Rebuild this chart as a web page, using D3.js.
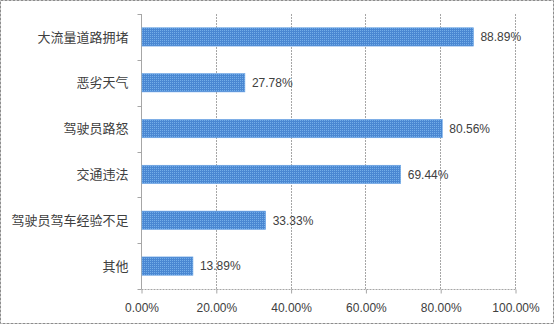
<!DOCTYPE html>
<html>
<head>
<meta charset="utf-8">
<script src="https://cdn.jsdelivr.net/npm/d3@7"></script>
<style>
  html, body { margin: 0; padding: 0; background: #fff; }
  svg { display: block; }
</style>
</head>
<body>
<svg id="chart" width="554" height="324"></svg>
<script>
// Causes listed top to bottom, with the share of respondents for each
const categories = ["大流量道路拥堵", "恶劣天气", "驾驶员路怒", "交通违法", "驾驶员驾车经验不足", "其他"];
const values = [88.89, 27.78, 80.56, 69.44, 33.33, 13.89];
const tickValues = [0, 20, 40, 60, 80, 100];

const W = 554, H = 324;
const plot = { left: 141, right: 515, top: 14, bottom: 289 };

const svg = d3.select("#chart");

// dotted fill used for the bars
const defs = svg.append("defs");
const pat = defs.append("pattern")
  .attr("id", "dots")
  .attr("width", 2).attr("height", 2)
  .attr("patternUnits", "userSpaceOnUse");
pat.append("rect").attr("width", 2).attr("height", 2).attr("fill", "#4a87d2");
pat.append("rect").attr("x", 0).attr("y", 0).attr("width", 1).attr("height", 1).attr("fill", "#74aee8");

// dashed frame around the chart
svg.append("rect")
  .attr("x", 0.5).attr("y", 0.5)
  .attr("width", W - 1).attr("height", H - 1)
  .attr("fill", "#fff")
  .attr("stroke", "#8c8c8c")
  .attr("stroke-dasharray", "3,1");

const x = d3.scaleLinear().domain([0, 100]).range([plot.left, plot.right]);
const y = d3.scaleBand()
  .domain(categories)
  .range([plot.top, plot.bottom])
  .paddingInner(0.6)
  .paddingOuter(0.3);

// vertical gridlines
svg.append("g")
  .selectAll("line")
  .data(tickValues.slice(1))
  .join("line")
  .attr("x1", d => Math.round(x(d)) + 0.5)
  .attr("x2", d => Math.round(x(d)) + 0.5)
  .attr("y1", plot.top)
  .attr("y2", plot.bottom)
  .attr("stroke", "#a6a6a6")
  .attr("stroke-dasharray", "2,1");

// bottom value axis
const xAxis = svg.append("g")
  .attr("transform", `translate(0.5,${plot.bottom + 0.5})`)
  .call(d3.axisBottom(x)
    .tickValues(tickValues)
    .tickSize(4)
    .tickPadding(10)
    .tickFormat(d => d.toFixed(2) + "%"));
xAxis.select(".domain")
  .attr("stroke", "#a6a6a6")
  .attr("stroke-dasharray", "2,1")
  .attr("d", `M${plot.left},0H${plot.right}`);
xAxis.selectAll(".tick line").attr("stroke", "#a6a6a6");
xAxis.selectAll(".tick text")
  .attr("fill", "#404040")
  .style("font-family", "'Liberation Sans', Arial, sans-serif")
  .style("font-size", "12px");

// left category axis with ticks on band boundaries
const yAxis = svg.append("g")
  .attr("transform", `translate(${plot.left + 0.5},0)`);
yAxis.append("line")
  .attr("x1", 0).attr("x2", 0)
  .attr("y1", plot.top).attr("y2", plot.bottom)
  .attr("stroke", "#a6a6a6");
const step = y.step();
const boundaries = d3.range(categories.length + 1).map(i => plot.top + i * step);
yAxis.selectAll("line.bt")
  .data(boundaries)
  .join("line")
  .attr("class", "bt")
  .attr("x1", -4).attr("x2", 0)
  .attr("y1", d => Math.round(d) + 0.5)
  .attr("y2", d => Math.round(d) + 0.5)
  .attr("stroke", "#a6a6a6");
yAxis.selectAll("text")
  .data(categories)
  .join("text")
  .attr("x", -13)
  .attr("y", d => y(d) + y.bandwidth() / 2)
  .attr("dy", "0.36em")
  .attr("text-anchor", "end")
  .attr("fill", "#404040")
  .style("font-family", "'Noto Sans CJK SC', sans-serif")
  .style("font-size", "13px")
  .text(d => d);

// bars
svg.append("g")
  .selectAll("rect")
  .data(categories)
  .join("rect")
  .attr("x", x(0) + 1)
  .attr("y", d => y(d))
  .attr("width", (d, i) => x(values[i]) - x(0) - 1)
  .attr("height", y.bandwidth())
  .attr("fill", "url(#dots)")
  .attr("stroke", "#6fa8e6")
  .attr("stroke-width", 0.6);

// value labels
svg.append("g")
  .selectAll("text")
  .data(categories)
  .join("text")
  .attr("x", (d, i) => x(values[i]) + 7)
  .attr("y", d => y(d) + y.bandwidth() / 2)
  .attr("dy", "0.36em")
  .attr("fill", "#404040")
  .style("font-family", "'Liberation Sans', Arial, sans-serif")
  .style("font-size", "12px")
  .text((d, i) => values[i].toFixed(2) + "%");
</script>
</body>
</html>
